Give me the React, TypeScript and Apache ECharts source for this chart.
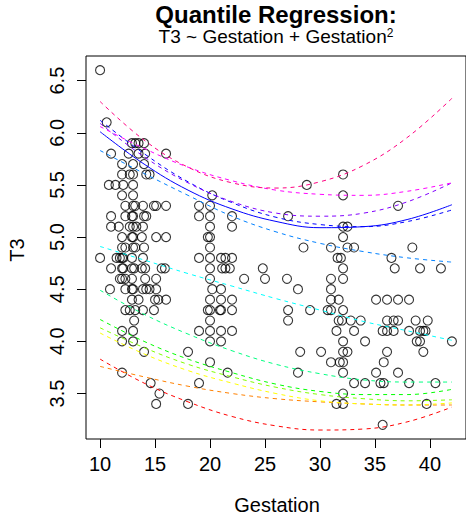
import React, { useEffect, useRef } from "react";
import * as echarts from "echarts";

// ---- data ----
const xTicks = [10, 15, 20, 25, 30, 35, 40];
const yTicks = [3.5, 4.0, 4.5, 5.0, 5.5, 6.0, 6.5];

// observations: [T3 level, gestation values at that level]
const obsRows: [number, number[]][] = [
  [6.6, [10.0]],
  [6.1, [10.6]],
  [5.9, [12.9, 13.2, 13.5, 14.0]],
  [5.8, [11.0, 12.6, 13.5, 14.1, 16.0]],
  [5.7, [12.0, 13.0, 14.0]],
  [5.6, [12.0, 12.7, 13.0, 14.2, 14.5, 32.1]],
  [5.5, [10.8, 11.4, 12.1, 13.0, 28.8]],
  [5.4, [12.0, 13.0, 20.2, 32.1]],
  [5.3, [12.3, 13.0, 13.2, 13.9, 14.9, 15.1, 16.0, 19.0, 20.0, 37.1]],
  [5.2, [11.0, 12.3, 12.9, 13.0, 14.0, 14.2, 19.0, 20.0, 22.0, 27.1]],
  [5.1, [11.0, 11.7, 12.7, 13.0, 13.3, 13.9, 20.0, 22.0, 32.1, 32.5]],
  [5.0, [12.0, 12.9, 13.0, 13.8, 15.1, 16.0, 19.8, 20.0, 32.1]],
  [4.9, [12.0, 12.3, 13.0, 13.2, 14.0, 20.0, 28.5, 31.0, 32.5, 33.1, 38.4]],
  [4.8, [10.0, 11.5, 11.8, 12.0, 12.1, 12.9, 13.9, 19.0, 20.0, 21.0, 21.4, 22.0, 31.6, 31.9, 36.5]],
  [4.7, [11.0, 12.0, 12.1, 12.9, 13.1, 13.8, 14.1, 15.6, 15.9, 20.0, 21.1, 21.4, 21.8, 24.8, 32.1, 36.8, 39.1, 41.0]],
  [4.6, [11.8, 12.0, 12.3, 12.9, 14.1, 15.1, 20.0, 23.1, 25.0, 27.0, 31.0, 32.1]],
  [4.5, [10.9, 12.3, 12.9, 13.0, 13.9, 14.2, 14.5, 15.1, 20.2, 21.0, 28.0, 31.0]],
  [4.4, [12.9, 13.5, 15.0, 15.3, 16.0, 20.0, 21.0, 22.0, 31.0, 31.7, 35.1, 36.1, 37.1, 38.1]],
  [4.3, [12.3, 12.7, 13.2, 13.9, 14.9, 19.8, 20.0, 20.9, 21.0, 22.0, 27.1, 29.1, 30.7, 31.0, 32.1]],
  [4.2, [13.1, 20.0, 27.1, 31.7, 32.0, 32.8, 33.7, 36.1, 36.7, 37.1, 38.7, 39.8]],
  [4.1, [12.0, 13.0, 19.0, 20.0, 21.0, 22.0, 31.5, 33.1, 35.7, 36.1, 36.7, 38.1, 39.1, 39.4, 39.6]],
  [4.0, [12.0, 13.0, 20.0, 21.0, 32.1, 34.1, 38.8, 39.1, 42.0]],
  [3.9, [14.0, 18.0, 28.2, 30.1, 32.1, 32.5, 36.1, 39.4]],
  [3.8, [20.0, 31.0, 31.8, 32.1, 35.8]],
  [3.7, [12.0, 21.6, 28.0, 32.1, 35.1, 37.1]],
  [3.6, [14.6, 19.0, 33.1, 34.1, 35.5, 35.8, 38.1, 40.5]],
  [3.5, [15.4, 32.1]],
  [3.4, [15.1, 18.0, 31.5, 32.1, 39.7]],
  [3.2, [35.7]],
];

// fitted quantile curves, sampled at these gestation values
const curveX = [10, 14, 18, 22, 26, 30, 34, 38, 42];
const qRed = [3.83, 3.6, 3.42, 3.28, 3.19, 3.15, 3.16, 3.23, 3.37];
const qOrange = [3.76, 3.66, 3.57, 3.5, 3.45, 3.42, 3.4, 3.39, 3.39];
const qYellow = [4.08, 3.88, 3.72, 3.6, 3.5, 3.43, 3.4, 3.39, 3.41];
const qChartreuse = [4.13, 3.94, 3.78, 3.66, 3.56, 3.49, 3.45, 3.43, 3.44];
const qGreen = [4.21, 4.0, 3.83, 3.7, 3.59, 3.52, 3.49, 3.49, 3.54];
const qSpring = [4.49, 4.26, 4.07, 3.91, 3.78, 3.69, 3.63, 3.61, 3.61];
const qCyan = [4.91, 4.78, 4.65, 4.53, 4.41, 4.3, 4.19, 4.1, 4.01];
const qAzure = [5.83, 5.61, 5.4, 5.2, 5.05, 4.94, 4.86, 4.8, 4.76];
const qBlue = [6.12, 5.8, 5.53, 5.33, 5.19, 5.12, 5.1, 5.15, 5.26];
const qViolet = [6.09, 5.77, 5.52, 5.34, 5.23, 5.2, 5.23, 5.34, 5.52];
const qMagenta = [6.06, 5.85, 5.67, 5.54, 5.45, 5.41, 5.4, 5.44, 5.52];
const qRose = [6.3, 5.93, 5.67, 5.52, 5.47, 5.53, 5.69, 5.96, 6.33];
const solidFit = [6.01, 5.7, 5.45, 5.27, 5.15, 5.09, 5.1, 5.17, 5.31];

const curves: { vals: number[]; color: string; dashed: boolean }[] = [
  { vals: qRed, color: "#FF0000", dashed: true },
  { vals: qOrange, color: "#FF8000", dashed: true },
  { vals: qYellow, color: "#FFFF00", dashed: true },
  { vals: qChartreuse, color: "#80FF00", dashed: true },
  { vals: qGreen, color: "#00FF00", dashed: true },
  { vals: qSpring, color: "#00FF80", dashed: true },
  { vals: qCyan, color: "#00FFFF", dashed: true },
  { vals: qAzure, color: "#0080FF", dashed: true },
  { vals: qBlue, color: "#0000FF", dashed: true },
  { vals: qViolet, color: "#8000FF", dashed: true },
  { vals: qMagenta, color: "#FF00FF", dashed: true },
  { vals: qRose, color: "#FF0080", dashed: true },
  { vals: solidFit, color: "#0000FF", dashed: false },
];

const FONT = "'Liberation Sans', Arial, Helvetica, sans-serif";

export default function App() {
  const ref = useRef<HTMLDivElement>(null);
  useEffect(() => {
    if (!ref.current) return;
    const chart = echarts.init(ref.current, undefined, { renderer: "svg" });
    const points: number[][] = [];
    obsRows.forEach(([t, gs]) => gs.forEach((g) => points.push([g, t])));

    const lineSeries = curves.map((c) => ({
      type: "line",
      data: curveX.map((g, i) => [g, c.vals[i]]),
      smooth: 0.4,
      symbol: "none",
      silent: true,
      lineStyle: { color: c.color, width: 1, type: c.dashed ? [4, 4] : "solid" },
      z: 3,
    }));

    chart.setOption({
      animation: false,
      backgroundColor: "#fff",
      textStyle: { fontFamily: FONT },
      grid: {
        left: 86,
        top: 56,
        right: -3,
        bottom: 76,
        show: true,
        borderColor: "#000",
        borderWidth: 1,
        backgroundColor: "transparent",
      },
      xAxis: {
        type: "value",
        min: 8.72,
        max: 43.28,
        axisLine: { show: false },
        splitLine: { show: false },
        axisTick: { show: true, length: 9, lineStyle: { color: "#000" }, customValues: xTicks },
        axisLabel: {
          customValues: xTicks,
          fontSize: 20,
          color: "#000",
          margin: 15,
          fontFamily: FONT,
        },
      },
      yAxis: {
        type: "value",
        min: 3.064,
        max: 6.736,
        axisLine: { show: false },
        splitLine: { show: false },
        axisTick: { show: true, length: 9, lineStyle: { color: "#000" }, customValues: yTicks },
        axisLabel: {
          customValues: yTicks,
          rotate: 90,
          fontSize: 20,
          color: "#000",
          margin: 19,
          fontFamily: FONT,
          formatter: (v: number) => v.toFixed(1),
        },
      },
      graphic: [
        {
          type: "text",
          x: 276,
          y: 26,
          style: {
            text: "Quantile Regression:",
            font: `bold 24px ${FONT}`,
            fill: "#000",
            textAlign: "center",
            textVerticalAlign: "bottom",
          },
        },
        {
          type: "text",
          x: 276,
          y: 27,
          style: {
            text: "{a|T3 ~ Gestation + Gestation}{b|2}",
            textAlign: "center",
            textVerticalAlign: "top",
            rich: {
              a: { fontSize: 19, fontFamily: FONT, fill: "#000", lineHeight: 19, verticalAlign: "bottom" },
              b: { fontSize: 12, fontFamily: FONT, fill: "#000", lineHeight: 19, verticalAlign: "top" },
            },
          },
        },
        {
          type: "text",
          x: 277,
          y: 515,
          style: {
            text: "Gestation",
            font: `20px ${FONT}`,
            fill: "#000",
            textAlign: "center",
            textVerticalAlign: "bottom",
          },
        },
        {
          type: "text",
          x: 17,
          y: 250,
          rotation: Math.PI / 2,
          style: {
            text: "T3",
            font: `20px ${FONT}`,
            fill: "#000",
            textAlign: "center",
            textVerticalAlign: "middle",
          },
        },
      ],
      series: [
        {
          type: "scatter",
          data: points,
          symbol: "circle",
          symbolSize: 9,
          silent: true,
          itemStyle: { color: "rgba(0,0,0,0)", borderColor: "#000", borderWidth: 1.1 },
          z: 2,
        },
        ...lineSeries,
      ],
    });
    return () => chart.dispose();
  }, []);
  return (
    <div
      ref={ref}
      style={{ position: "fixed", left: 0, top: 0, width: 466, height: 515 }}
    />
  );
}
